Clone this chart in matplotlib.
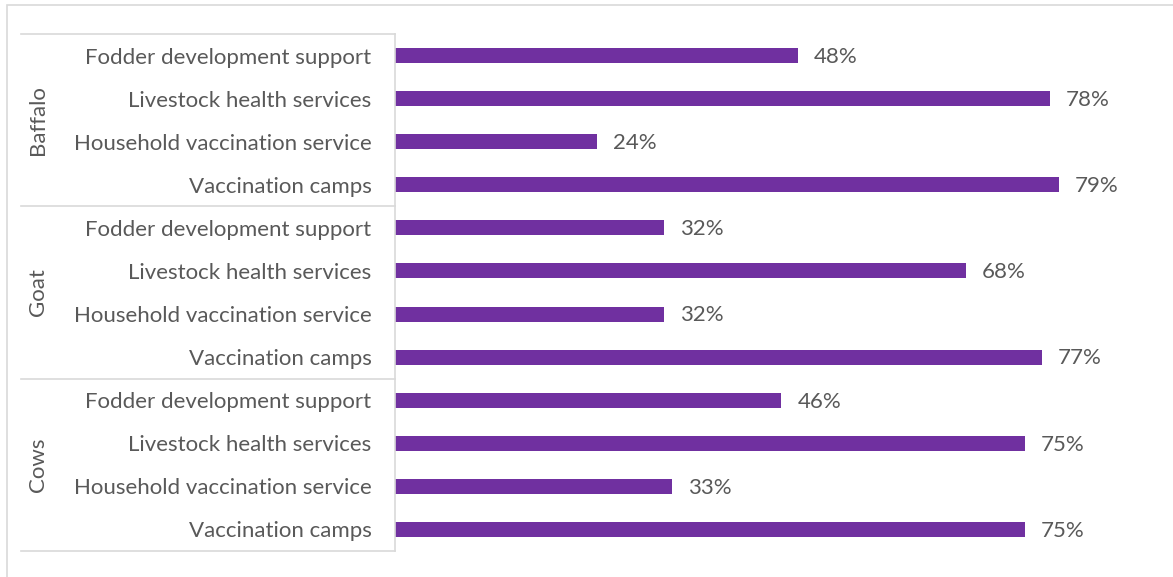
import matplotlib
matplotlib.use("Agg")
import matplotlib.pyplot as plt
import matplotlib.transforms as mtransforms
from matplotlib.patches import Rectangle

# categories top to bottom
groups = ["Baffalo", "Goat", "Cows"]
services = ["Fodder development support", "Livestock health services",
            "Household vaccination service", "Vaccination camps"]
baffalo = [48, 78, 24, 79]
goat = [32, 68, 32, 77]
cows = [46, 75, 33, 75]

bar_color = "#7030A0"
text_color = "#595959"
line_color = "#D9D9D9"
fs = 16

plt.rcParams["font.family"] = ["Lato", "DejaVu Sans"]

W, H = 1173, 577
fig = plt.figure(figsize=(W / 100, H / 100), dpi=100)

# outer chart border (only top/left visible in the crop)
fig.patches.append(Rectangle((7 / W, -0.1), 1.2, 1.1 - 5 / H, transform=fig.transFigure,
                             fill=False, edgecolor=line_color, linewidth=1.2))

ax = fig.add_axes([395 / W, 1 - 551 / H, (1151 - 395) / W, (551 - 34) / H])

labels, values = [], []
for vals in (baffalo, goat, cows):
    labels += services
    values += vals
n = len(values)
ypos = list(range(n))

ax.barh(ypos, values, height=0.35, color=bar_color)
ax.set_ylim(n - 0.5, -0.5)
ax.set_xlim(0, 90)

ax.set_yticks(ypos)
ax.set_yticklabels(labels, fontsize=fs, color=text_color)
ax.tick_params(axis="y", length=0, pad=17)
ax.set_xticks([])
for s in ("top", "right", "bottom"):
    ax.spines[s].set_visible(False)
ax.spines["left"].set_color(line_color)
ax.spines["left"].set_linewidth(1.2)

for y, v in zip(ypos, values):
    ax.text(v + 1.9, y + 0.03, f"{v}%", va="center", ha="left", fontsize=fs,
            color=text_color)

# group separators and labels
trans = mtransforms.blended_transform_factory(ax.transAxes, ax.transData)
x_left = (21 - 395) / (1151 - 395)
for k in range(len(groups) + 1):
    yb = k * 4 - 0.5
    ax.plot([x_left, 0], [yb, yb], transform=trans, color=line_color,
            linewidth=1.2, clip_on=False)
x_grp = (38 - 395) / (1151 - 395)
for k, g in enumerate(groups):
    ax.text(x_grp, k * 4 + 1.5, g, transform=trans, rotation=90, ha="center",
            va="center", fontsize=fs, color=text_color)

fig.savefig("out.png", dpi=100)
